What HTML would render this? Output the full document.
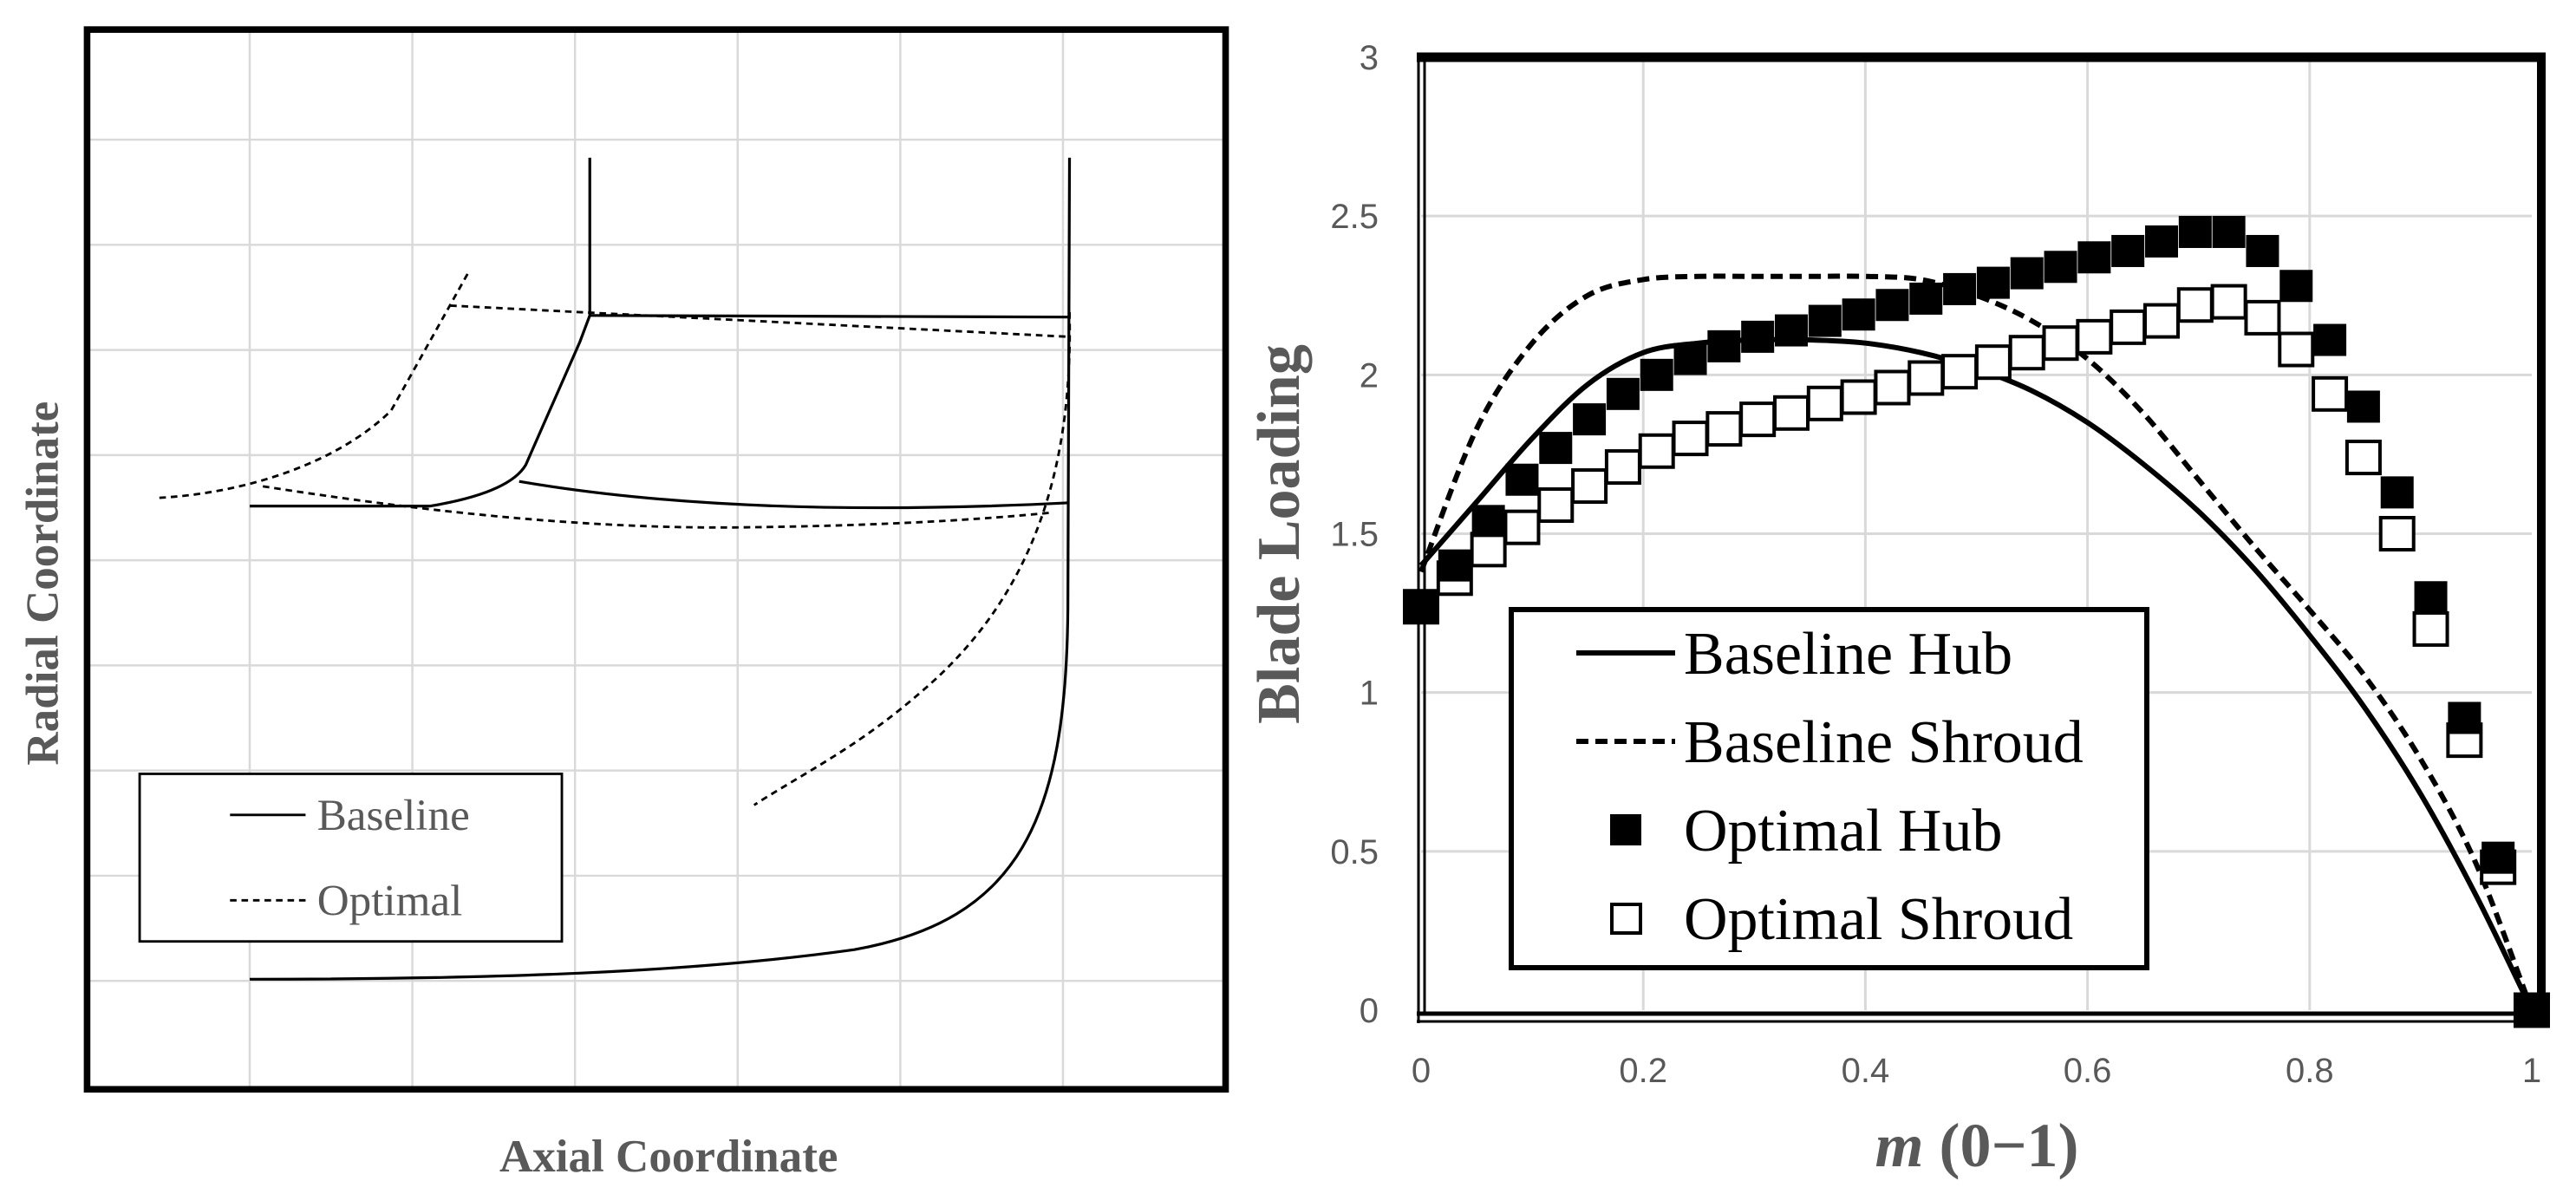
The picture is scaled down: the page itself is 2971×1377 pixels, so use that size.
<!DOCTYPE html>
<html><head><meta charset="utf-8"><style>
html,body{margin:0;padding:0;background:#fff;}
svg{display:block;}
</style></head><body>
<svg id="fig" width="2971" height="1377" viewBox="0 0 2971 1377" xmlns="http://www.w3.org/2000/svg">
<rect width="2971" height="1377" fill="#fff"/>
<!-- LEFT PANEL -->
<g transform="scale(1.8948)">
  <g stroke="#d9d9d9" stroke-width="1.3">
    <line x1="152" y1="18" x2="152" y2="663"/><line x1="251" y1="18" x2="251" y2="663"/>
    <line x1="350" y1="18" x2="350" y2="663"/><line x1="449" y1="18" x2="449" y2="663"/>
    <line x1="548" y1="18" x2="548" y2="663"/><line x1="647" y1="18" x2="647" y2="663"/>
    <line x1="53" y1="85" x2="746" y2="85"/><line x1="53" y1="149" x2="746" y2="149"/>
    <line x1="53" y1="213" x2="746" y2="213"/><line x1="53" y1="277" x2="746" y2="277"/>
    <line x1="53" y1="341" x2="746" y2="341"/><line x1="53" y1="405" x2="746" y2="405"/>
    <line x1="53" y1="469" x2="746" y2="469"/><line x1="53" y1="533" x2="746" y2="533"/>
    <line x1="53" y1="597" x2="746" y2="597"/>
  </g>
  <g fill="none" stroke="#000" stroke-width="1.7">
    <path d="M359,96 L359,192 L353,208 L320,283 Q310,300 262,308 L152,308"/>
    <path d="M316,293 Q450,316 651,306"/>
    <path d="M359,192 L651,193"/>
    <path d="M651,96 L650,370 C649,500 620,560 520,578 C420,592 300,596 152,596"/>
  </g>
  <g fill="none" stroke="#000" stroke-width="1.5" stroke-dasharray="4,3">
    <path d="M97,303 C150,300 205,282 238,250 L285,166"/>
    <path d="M274,186 L651,205"/>
    <path d="M160,296 C250,310 350,322 450,321 C540,320 600,316 640,312"/>
    <path d="M651,190 C653,280 632,360 562,420 C522,455 490,470 459,490"/>
  </g>
  <rect x="53" y="18" width="693" height="645" fill="none" stroke="#000" stroke-width="4"/>
  <g>
    <rect x="85" y="471" width="257" height="102" fill="#fff" stroke="#000" stroke-width="1.5"/>
    <line x1="140" y1="496" x2="186" y2="496" stroke="#000" stroke-width="1.5"/>
    <text x="193" y="505" font-family="Liberation Serif, serif" font-size="27" fill="#595959">Baseline</text>
    <line x1="140" y1="548" x2="186" y2="548" stroke="#000" stroke-width="1.5" stroke-dasharray="4,3"/>
    <text x="193" y="557" font-family="Liberation Serif, serif" font-size="27" fill="#595959">Optimal</text>
  </g>
  <text transform="translate(35,355) rotate(-90)" text-anchor="middle" font-family="Liberation Serif, serif" font-weight="bold" font-size="28" fill="#595959">Radial Coordinate</text>
  <text x="407" y="713" text-anchor="middle" font-family="Liberation Serif, serif" font-weight="bold" font-size="28" fill="#595959">Axial Coordinate</text>
</g>
<!-- RIGHT CHART -->
<g id="rc"></g>
<text x="2280" y="1345" text-anchor="middle" font-family="Liberation Serif, serif" font-weight="bold" font-size="72" fill="#595959"><tspan font-style="italic">m</tspan> (0−1)</text>
<script>
const xTicks = [0, 0.2, 0.4, 0.6, 0.8, 1];
const xTickLabels = ["0", "0.2", "0.4", "0.6", "0.8", "1"];
const yTicks = [0, 0.5, 1, 1.5, 2, 2.5, 3];
const yTickLabels = ["0", "0.5", "1", "1.5", "2", "2.5", "3"];
const baseHubM = [0, 0.05, 0.1, 0.15, 0.2, 0.25, 0.3, 0.35, 0.4, 0.45, 0.5, 0.55, 0.6, 0.65, 0.7, 0.75, 0.8, 0.85, 0.9, 0.95, 1];
const baseHubV = [1.40, 1.60, 1.80, 1.97, 2.07, 2.10, 2.11, 2.11, 2.10, 2.07, 2.02, 1.95, 1.85, 1.72, 1.57, 1.39, 1.18, 0.95, 0.68, 0.36, 0];
const baseShrM = [0, 0.05, 0.1, 0.15, 0.2, 0.25, 0.3, 0.35, 0.4, 0.45, 0.5, 0.55, 0.6, 0.65, 0.7, 0.75, 0.8, 0.85, 0.9, 0.95, 1];
const baseShrV = [1.38, 1.83, 2.10, 2.25, 2.30, 2.31, 2.31, 2.31, 2.31, 2.30, 2.25, 2.17, 2.05, 1.88, 1.67, 1.46, 1.26, 1.05, 0.79, 0.46, 0];
const optHubV = [1.27,1.40,1.54,1.67,1.77,1.86,1.94,2.00,2.05,2.09,2.12,2.14,2.17,2.19,2.22,2.24,2.27,2.29,2.32,2.34,2.37,2.39,2.42,2.45,2.45,2.39,2.28,2.11,1.90,1.63,1.30,0.92,0.48,0];
const optShrV = [1.27,1.36,1.45,1.52,1.59,1.65,1.71,1.76,1.80,1.83,1.86,1.88,1.91,1.93,1.96,1.99,2.01,2.04,2.07,2.10,2.12,2.15,2.17,2.22,2.23,2.18,2.08,1.94,1.74,1.50,1.20,0.85,0.45,0];

const NS = "http://www.w3.org/2000/svg";
const g = document.getElementById("rc");
const X0 = 1639, X1 = 2920, Y0 = 1165, YTOP = 66;
const sx = v => X0 + v * (X1 - X0);
const sy = v => Y0 - v / 3 * (Y0 - YTOP);
function mk(tag, attrs, parent) {
  const e = document.createElementNS(NS, tag);
  for (const k in attrs) e.setAttribute(k, attrs[k]);
  (parent || g).appendChild(e);
  return e;
}
function smoothPath(xs, ys) {
  const p = xs.map((m, i) => [sx(m), sy(ys[i])]);
  let d = "M" + p[0][0] + "," + p[0][1];
  for (let i = 0; i < p.length - 1; i++) {
    const a = p[i - 1] || p[i], b = p[i], c = p[i + 1], e = p[i + 2] || c;
    const c1 = [b[0] + (c[0] - a[0]) / 6, b[1] + (c[1] - a[1]) / 6];
    const c2 = [c[0] - (e[0] - b[0]) / 6, c[1] - (e[1] - b[1]) / 6];
    d += " C" + c1[0] + "," + c1[1] + " " + c2[0] + "," + c2[1] + " " + c[0] + "," + c[1];
  }
  return d;
}
xTicks.forEach((t, i) => {
  if (t > 0 && t < 1) {
    const l = mk("line", {x1: sx(t), x2: sx(t), y1: YTOP, y2: Y0, stroke: "#d9d9d9", "stroke-width": 3});
    
    
  }
  const tx = mk("text", {x: sx(t), y: 1248, "text-anchor": "middle", "font-family": "Liberation Sans, sans-serif", "font-size": 40, fill: "#595959"});
  tx.textContent = xTickLabels[i];
  
  
});
yTicks.forEach((t, i) => {
  if (t > 0 && t < 3) {
    const l = mk("line", {x1: X0, x2: X1, y1: sy(t), y2: sy(t), stroke: "#d9d9d9", "stroke-width": 3});
    
    
  }
  const tx = mk("text", {x: 1590, y: sy(t) + 14, "text-anchor": "end", "font-family": "Liberation Sans, sans-serif", "font-size": 40, fill: "#595959"});
  tx.textContent = yTickLabels[i];
  
  
});
const fr = mk("g", {});


mk("line", {x1: 1634, y1: 66, x2: 2936, y2: 66, stroke: "#000", "stroke-width": 11}, fr);
mk("line", {x1: 2931, y1: 62, x2: 2931, y2: 1180, stroke: "#000", "stroke-width": 10}, fr);
mk("line", {x1: 1636, y1: 62, x2: 1636, y2: 1180, stroke: "#000", "stroke-width": 3}, fr);
mk("line", {x1: 1643, y1: 70, x2: 1643, y2: 1170, stroke: "#000", "stroke-width": 3}, fr);
mk("line", {x1: 1634, y1: 1169, x2: 2936, y2: 1169, stroke: "#000", "stroke-width": 5}, fr);
mk("line", {x1: 1634, y1: 1178, x2: 2936, y2: 1178, stroke: "#000", "stroke-width": 3}, fr);
const bh = mk("path", {d: smoothPath(baseHubM, baseHubV), fill: "none", stroke: "#000", "stroke-width": 6});


const bs = mk("path", {d: smoothPath(baseShrM, baseShrV), fill: "none", stroke: "#000", "stroke-width": 6, "stroke-dasharray": "14,8"});


const W = 38, H = 37;
optShrV.forEach((v, i) => {
  const r = mk("rect", {x: sx(i / 33) - W / 2, y: sy(v) - H / 2, width: W, height: H, fill: "#fff", stroke: "#000", "stroke-width": 4});
  
  
});
optHubV.forEach((v, i) => {
  const r = mk("rect", {x: sx(i / 33) - W / 2, y: sy(v) - H / 2, width: W, height: H, fill: "#000"});
  
  
});
const lg = mk("g", {});


mk("rect", {x: 1743, y: 703, width: 733, height: 413, fill: "#fff", stroke: "#000", "stroke-width": 6}, lg);
const names = ["Baseline Hub", "Baseline Shroud", "Optimal Hub", "Optimal Shroud"];
const keys = ["legend-baseline-hub", "legend-baseline-shroud", "legend-optimal-hub", "legend-optimal-shroud"];
names.forEach((n, i) => {
  const cy = 753 + i * 102;
  if (i === 0) mk("line", {x1: 1818, x2: 1932, y1: cy, y2: cy, stroke: "#000", "stroke-width": 6}, lg);
  if (i === 1) mk("line", {x1: 1818, x2: 1932, y1: cy, y2: cy, stroke: "#000", "stroke-width": 6, "stroke-dasharray": "14,8"}, lg);
  if (i === 2) mk("rect", {x: 1857, y: cy - 18, width: 36, height: 36, fill: "#000"}, lg);
  if (i === 3) mk("rect", {x: 1859, y: cy - 16, width: 33, height: 33, fill: "#fff", stroke: "#000", "stroke-width": 4}, lg);
  const t = mk("text", {x: 1942, y: cy + 24, "font-family": "Liberation Serif, serif", "font-size": 70, fill: "#000"}, lg);
  t.textContent = n;
  
  
});
const yt = mk("text", {transform: "translate(1498,616) rotate(-90)", "text-anchor": "middle", "font-family": "Liberation Serif, serif", "font-weight": "bold", "font-size": 70, fill: "#595959"});
yt.textContent = "Blade Loading";


</script>
</svg>
</body></html>
